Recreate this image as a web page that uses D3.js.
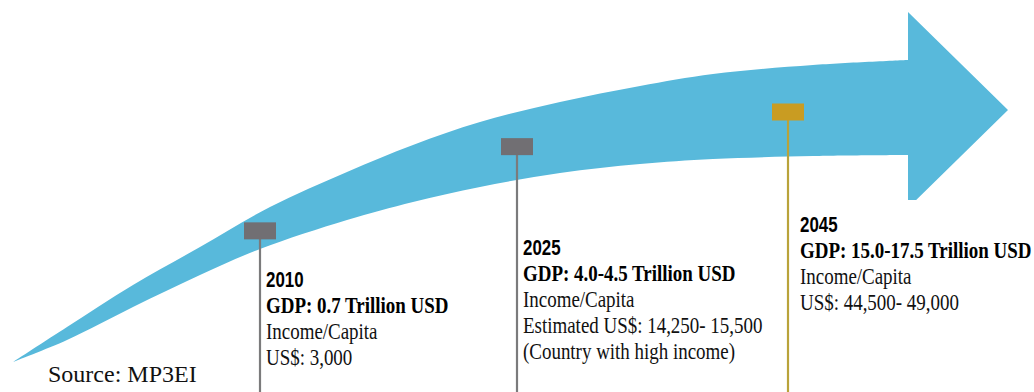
<!DOCTYPE html>
<html>
<head>
<meta charset="utf-8">
<script src="https://cdn.jsdelivr.net/npm/d3@7"></script>
<style>
  html, body { margin: 0; padding: 0; background: #ffffff; }
  svg { display: block; }
</style>
</head>
<body>
<svg id="chart" width="1034" height="392"></svg>
<script>
// Milestones of the growth path
const years = [2010, 2025, 2045];
const gdpLabels = [
  "GDP: 0.7 Trillion USD",
  "GDP: 4.0-4.5 Trillion USD",
  "GDP: 15.0-17.5 Trillion USD"
];
const incomeLines = [
  ["Income/Capita", "US$: 3,000"],
  ["Income/Capita", "Estimated US$: 14,250- 15,500", "(Country with high income)"],
  ["Income/Capita", "US$: 44,500- 49,000"]
];
const sourceNote = "Source: MP3EI";

// Layout
const W = 1034, H = 392;
const svg = d3.select("#chart");

// Year -> horizontal position along the arrow
const x = d3.scaleLinear().domain(years).range([260, 517, 788]);

// Outline of the curved arrow shaft (upper and lower edge) and its head
const topEdge = [[13,362],[67,327],[133,285],[200,247],[270,207],[347,172],[413,145],
                 [480,122],[560,102],[640,86],[713,74],[813,65],[908,60]];
const bottomEdge = [[13,362],[67,340],[133,307],[200,275],[260,249],[347,220],[413,202],
                    [480,187],[560,173],[640,164],[713,159],[813,156],[908,155]];
const headBase = 908, headTop = 12, headTip = [1008, 110], headBottom = 208;

const edge = d3.line().curve(d3.curveCatmullRom.alpha(0.5));
const arrowPath =
  edge(topEdge) +
  `L${headBase},${headTop}L${headTip[0]},${headTip[1]}L${headBase},${headBottom}` +
  edge(bottomEdge.slice().reverse()).replace(/^M/, "L") + "Z";

svg.append("path")
  .attr("d", arrowPath)
  .attr("fill", "#58b9db");

// Centre line of the shaft, used to seat the milestone markers
const topY = d3.scaleLinear().domain(topEdge.map(d => d[0])).range(topEdge.map(d => d[1]));
const botY = d3.scaleLinear().domain(bottomEdge.map(d => d[0])).range(bottomEdge.map(d => d[1]));
const midY = xx => (topY(xx) + botY(xx)) / 2;

// Paper-white panel behind the last label (clips the arrow head)
svg.append("rect")
  .attr("x", 795).attr("y", 200)
  .attr("width", W - 795).attr("height", H - 200)
  .attr("fill", "#ffffff");

const markerFill = ["#716f73", "#716f73", "#c99c22"];
const stemColor  = ["#7b7b7c", "#7b7b7c", "#b9a33a"];

const m = svg.selectAll("g.milestone")
  .data(years)
  .join("g")
  .attr("class", "milestone");

m.append("line")
  .attr("x1", d => x(d)).attr("x2", d => x(d))
  .attr("y1", d => midY(x(d))).attr("y2", H)
  .attr("stroke", (d, i) => stemColor[i])
  .attr("stroke-width", 2.2);

m.append("rect")
  .attr("x", d => x(d) - 16)
  .attr("y", d => midY(x(d)) - 8.5)
  .attr("width", 32).attr("height", 17)
  .attr("fill", (d, i) => markerFill[i]);

// Text blocks beside each stem (condensed setting)
const labelDx = [6, 6, 12];
const labelY  = [287, 255, 232];
const lineGap = 26;

m.each(function (d, i) {
  const ox = x(d) + labelDx[i], oy = labelY[i];

  d3.select(this).append("text")
    .attr("transform", `translate(${ox},${oy}) scale(0.75,1)`)
    .attr("font-family", "'Liberation Sans', Arial, sans-serif")
    .attr("font-weight", "bold")
    .attr("font-size", 22.5)
    .attr("fill", "#000")
    .text(d);

  const g = d3.select(this).append("g")
    .attr("transform", `translate(${ox},${oy}) scale(0.79,1)`);

  g.append("text")
    .attr("x", 0).attr("y", lineGap)
    .attr("font-family", "'Liberation Serif', 'Times New Roman', serif")
    .attr("font-weight", "bold")
    .attr("font-size", 24)
    .attr("fill", "#000")
    .text(gdpLabels[i]);

  incomeLines[i].forEach((t, j) => {
    g.append("text")
      .attr("x", 0).attr("y", lineGap * (j + 2))
      .attr("font-family", "'Liberation Serif', 'Times New Roman', serif")
      .attr("font-size", 24)
      .attr("fill", "#111")
      .text(t);
  });
});

svg.append("text")
  .attr("x", 48).attr("y", 382)
  .attr("font-family", "'Liberation Serif', 'Times New Roman', serif")
  .attr("font-size", 24)
  .attr("fill", "#111")
  .text(sourceNote);
</script>
</body>
</html>
